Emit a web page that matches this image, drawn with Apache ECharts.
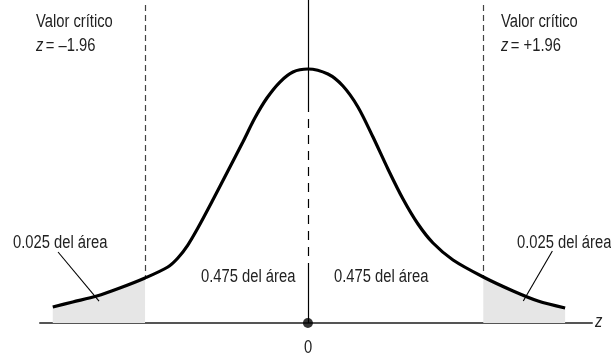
<!DOCTYPE html>
<html>
<head>
<meta charset="utf-8">
<script src="https://cdn.jsdelivr.net/npm/echarts@6/dist/echarts.min.js"></script>
<style>
html,body{margin:0;padding:0;background:#fff;}
#chart{width:611px;height:359px;}
</style>
</head>
<body>
<div id="chart"></div>
<script>
// Curve points (z position, height in density units)
const curveX = [-3.000, -2.765, -2.482, -2.212, -1.915, -1.647, -1.529, -1.412, -1.294, -1.118, -0.941, -0.765, -0.624, -0.482, -0.329, -0.176, 0,
                0.235, 0.412, 0.588, 0.765, 0.941, 1.118, 1.294, 1.471, 1.706, 2.062, 2.412, 2.706, 3.024];
const curveY = [0.0252, 0.0331, 0.0425, 0.0551, 0.0709, 0.0882, 0.1024, 0.1228, 0.1496, 0.1937, 0.2394, 0.2850, 0.3228, 0.3543, 0.3795, 0.3953, 0.4000,
                0.3921, 0.3732, 0.3402, 0.2929, 0.2425, 0.1953, 0.1559, 0.1260, 0.0992, 0.0724, 0.0504, 0.0346, 0.0236];
// Critical value positions (as drawn)
const criticalX = [-1.915, 2.062];
const criticalTop = 0.5008;
// Centre line breakpoints (solid / dashed / solid)
const centreBreaks = [0.5087, 0.3465, 0.0835, 0];
// Annotation arrows: [startX, startY, endX, endY]
const arrowLeft = [-2.938, 0.1118, -2.456, 0.0346];
const arrowRight = [2.874, 0.1134, 2.532, 0.0346];
// Texts
const critLabel = 'Valor crítico';
const critValues = ['= –1.96', '= +1.96'];
const tailLabel = '0.025 del área';
const bodyLabel = '0.475 del área';
const zeroLabel = '0';
const axisName = 'z';

const curve = curveX.map((x, i) => [x, curveY[i]]);
const leftTail = curve.filter(p => p[0] <= criticalX[0]);
const rightTail = curve.filter(p => p[0] >= criticalX[1]);
const yAt = x => curve.find(p => p[0] === x)[1];

const FONT = "'Liberation Sans', Arial, sans-serif";
const TXT = '#222';
const SX = 0.82;

function txt(text, x, y, align, rich, italic) {
  return {
    type: 'text', x: x, y: y, scaleX: SX, silent: true,
    style: {
      x: 0, y: 0,
      text: text, fill: TXT, font: (italic ? 'italic ' : '') + '18px ' + FONT,
      textAlign: align || 'left', textVerticalAlign: 'middle',
      rich: rich
    }
  };
}
const richZ = { i: { fontStyle: 'italic', fontSize: 18, fontFamily: FONT, fill: TXT, padding: [0, 3, 0, 0] } };

const chart = echarts.init(document.getElementById('chart'), null, { renderer: 'canvas' });
chart.setOption({
  animation: false,
  backgroundColor: '#fff',
  grid: { left: 40, right: 19, top: 0, bottom: 36 },
  xAxis: {
    type: 'value', min: -3.15, max: 3.34,
    axisLine: { show: true, onZero: false, lineStyle: { color: '#555', width: 2 } },
    axisTick: { show: false }, axisLabel: { show: false }, splitLine: { show: false }
  },
  yAxis: {
    type: 'value', min: 0, max: 0.5087, show: false, splitLine: { show: false }
  },
  series: [
    {
      type: 'line', data: leftTail, smooth: 0.3, showSymbol: false, z: 1,
      lineStyle: { width: 0 }, areaStyle: { color: '#e6e6e6', opacity: 1 }
    },
    {
      type: 'line', data: rightTail, smooth: 0.3, showSymbol: false, z: 1,
      lineStyle: { width: 0 }, areaStyle: { color: '#e6e6e6', opacity: 1 }
    },
    {
      type: 'line', data: curve, smooth: 0.3, showSymbol: false, z: 5,
      lineStyle: { color: '#000', width: 3.2 },
      markLine: {
        silent: true, symbol: ['none', 'none'], label: { show: false }, animation: false,
        data: [
          [{ coord: [criticalX[0], criticalTop], lineStyle: { color: '#444', width: 1.2, type: [6, 4] } }, { coord: [criticalX[0], yAt(criticalX[0])] }],
          [{ coord: [criticalX[1], criticalTop], lineStyle: { color: '#444', width: 1.2, type: [6, 4] } }, { coord: [criticalX[1], yAt(criticalX[1])] }],
          [{ coord: [0, centreBreaks[0]], lineStyle: { color: '#000', width: 1.2, type: 'solid' } }, { coord: [0, centreBreaks[1]] }],
          [{ coord: [0, centreBreaks[1]], lineStyle: { color: '#000', width: 1.2, type: [9, 7] } }, { coord: [0, centreBreaks[2]] }],
          [{ coord: [0, centreBreaks[2]], lineStyle: { color: '#000', width: 1.2, type: 'solid' } }, { coord: [0, centreBreaks[3]] }]
        ]
      }
    },
    {
      type: 'line', data: [], z: 6,
      markLine: {
        silent: true, symbol: ['none', 'arrow'], symbolSize: [0, 9], label: { show: false }, animation: false,
        lineStyle: { color: '#000', width: 1.1, type: 'solid' },
        data: [
          [{ coord: [arrowLeft[0], arrowLeft[1]] }, { coord: [arrowLeft[2], arrowLeft[3]] }],
          [{ coord: [arrowRight[0], arrowRight[1]] }, { coord: [arrowRight[2], arrowRight[3]] }]
        ]
      }
    },
    {
      type: 'scatter', data: [[0, 0]], symbolSize: 10, z: 10,
      itemStyle: { color: '#000' }, silent: true
    }
  ],
  graphic: [
    txt(critLabel, 36, 22),
    txt('{i|z}' + critValues[0], 36, 46, 'left', richZ),
    txt(critLabel, 501, 22),
    txt('{i|z}' + critValues[1], 501, 46, 'left', richZ),
    txt(tailLabel, 13, 243),
    txt(tailLabel, 517, 243),
    txt(bodyLabel, 201, 277),
    txt(bodyLabel, 334, 277),
    txt(zeroLabel, 308, 348, 'center'),
    txt(axisName, 595, 322, 'left', null, true)
  ]
});
</script>
</body>
</html>
